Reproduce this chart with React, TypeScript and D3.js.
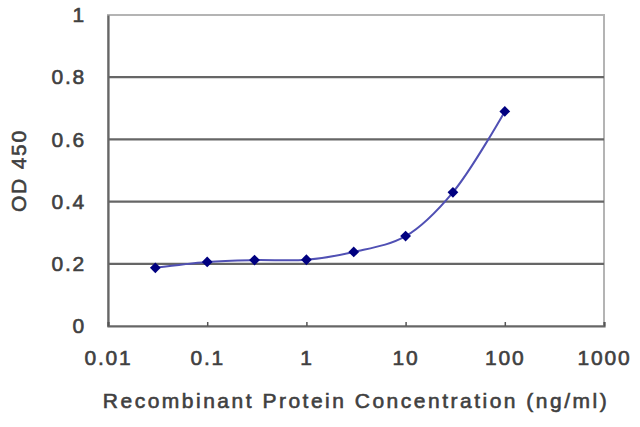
import React, { useRef, useEffect } from 'react';
import * as d3 from 'd3';

// concentration (ng/ml) vs OD 450
const concentrations = [0.03, 0.1, 0.3, 1, 3, 10, 30, 100];
const odValues = [0.187, 0.206, 0.212, 0.213, 0.238, 0.289, 0.43, 0.69];
const xTicks = [0.01, 0.1, 1, 10, 100, 1000];
const yTicks = [0, 0.2, 0.4, 0.6, 0.8, 1];

const FONT = 'Liberation Sans, Arial, sans-serif';

export default function App() {
  const svgRef = useRef<SVGSVGElement>(null);

  useEffect(() => {
    const width = 640;
    const height = 427;
    const margin = { top: 15, right: 36, bottom: 101, left: 108 };
    const innerWidth = width - margin.left - margin.right;
    const innerHeight = height - margin.top - margin.bottom;

    const svg = d3.select(svgRef.current);
    svg.selectAll('*').remove();

    const g = svg.append('g').attr('transform', `translate(${margin.left},${margin.top})`);

    const x = d3.scaleLog().domain([0.01, 1000]).range([0, innerWidth]);
    const y = d3.scaleLinear().domain([0, 1]).range([innerHeight, 0]);

    // plot frame (top/right light)
    g.append('rect')
      .attr('x', 0).attr('y', 0)
      .attr('width', innerWidth).attr('height', innerHeight)
      .attr('fill', 'white')
      .attr('stroke', '#b4b4b4')
      .attr('stroke-width', 2);

    // grid lines
    g.selectAll('.grid')
      .data(yTicks.filter(t => t > 0 && t < 1))
      .enter()
      .append('line')
      .attr('x1', 0).attr('x2', innerWidth)
      .attr('y1', d => y(d)).attr('y2', d => y(d))
      .attr('stroke', '#666')
      .attr('stroke-width', 2.2);

    const styleText = (sel: any) => sel
      .attr('fill', '#404040')
      .attr('stroke', '#404040')
      .attr('stroke-width', 0.6)
      .style('font-family', FONT)
      .style('font-size', '21px')
      .style('font-weight', 'normal')
      .style('letter-spacing', '1.8px');

    // y axis
    g.append('g')
      .call(d3.axisLeft(y).tickValues(yTicks).tickSize(0).tickPadding(22)
        .tickFormat(d => String(d)))
      .call(a => a.select('.domain').attr('stroke', '#666').attr('stroke-width', 2.2))
      .selectAll('text')
      .call(styleText);

    // x axis
    g.append('g')
      .attr('transform', `translate(0,${innerHeight})`)
      .call(d3.axisBottom(x).tickValues(xTicks).tickSize(-4).tickPadding(24)
        .tickFormat(d => String(d)))
      .call(a => a.select('.domain').attr('stroke', '#666').attr('stroke-width', 2.2))
      .call(a => a.selectAll('.tick line').attr('stroke', '#555').attr('stroke-width', 1.5))
      .selectAll('text')
      .call(styleText);

    const data = concentrations.map((c, i) => ({ c, v: odValues[i] }));

    const line = d3.line<{ c: number; v: number }>()
      .x(d => x(d.c))
      .y(d => y(d.v))
      .curve(d3.curveCatmullRom.alpha(0.5));

    g.append('path')
      .datum(data)
      .attr('fill', 'none')
      .attr('stroke', '#5050b4')
      .attr('stroke-width', 2)
      .attr('d', line);

    g.selectAll('.pt')
      .data(data)
      .enter()
      .append('path')
      .attr('transform', d => `translate(${x(d.c)},${y(d.v)}) rotate(45)`)
      .attr('d', d3.symbol(d3.symbolSquare, 58)())
      .attr('fill', '#000080');

    // axis titles
    svg.append('text')
      .attr('transform', `translate(26,${margin.top + innerHeight / 2}) rotate(-90)`)
      .attr('text-anchor', 'middle')
      .call(styleText)
      .text('OD 450');

    svg.append('text')
      .attr('x', margin.left + innerWidth / 2)
      .attr('y', 408)
      .attr('text-anchor', 'middle')
      .call(styleText)
      .style('letter-spacing', '2.5px')
      .text('Recombinant Protein Concentration (ng/ml)');
  }, []);

  return (
    <div style={{ position: 'fixed', left: 0, top: 0, width: 640, height: 427, background: 'white' }}>
      <svg ref={svgRef} width={640} height={427} viewBox="0 0 640 427"></svg>
    </div>
  );
}
